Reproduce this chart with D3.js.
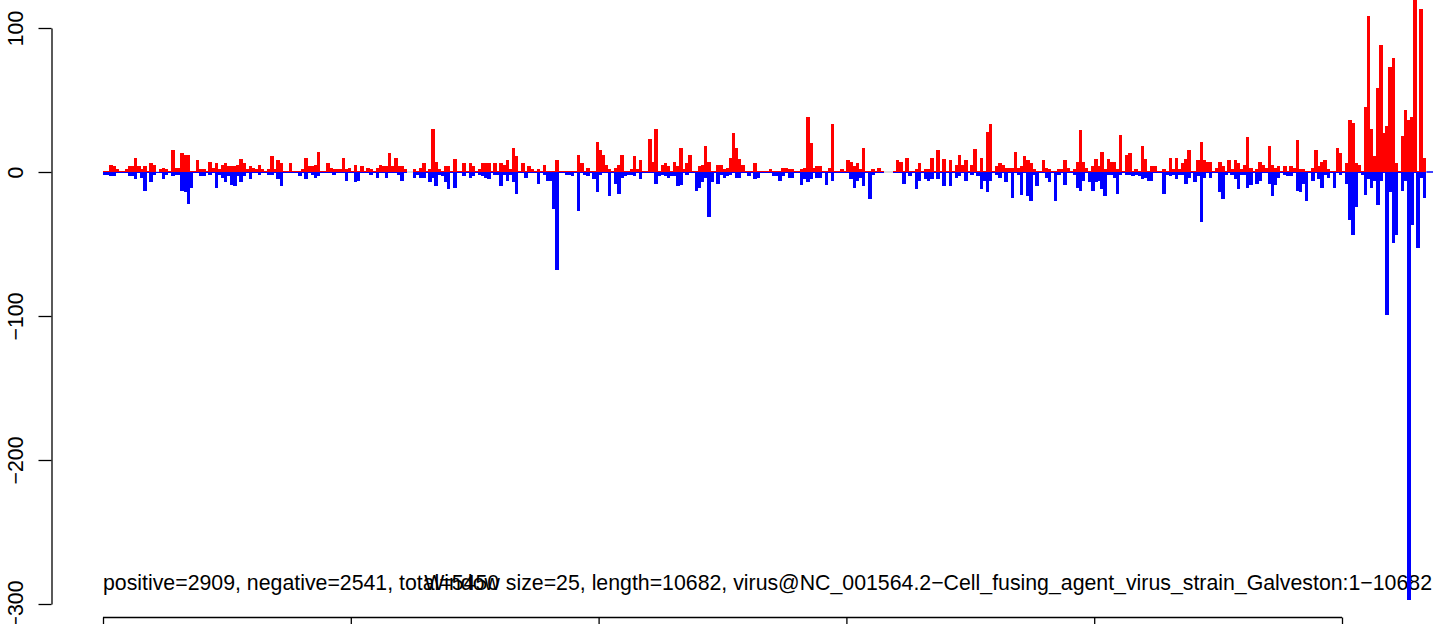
<!DOCTYPE html>
<html>
<head>
<meta charset="utf-8">
<script src="https://cdn.jsdelivr.net/npm/d3@7"></script>
<style>
  html, body { margin: 0; padding: 0; background: #ffffff; }
  svg { display: block; }
  text { font-family: "Liberation Sans", Arial, Helvetica, sans-serif; }
</style>
</head>
<body>
<svg id="chart" width="1433" height="624"></svg>
<script>
// ---- data ----
const genomeLength = 10682;
const windowSize = 25;

// positive-strand coverage per 25 bp window (428 windows)
const positive = [
  1,1,5,4,2,1,1,2,4,4, 10,4,2,4,1,6,5,0,2,3, 2,1,15,3,3,13,12,12,1,1,
  8,2,2,1,7,3,6,2,5,6, 4,4,4,5,9,6,2,4,3,2, 5,2,1,2,11,2,8,6,1,1,
  6,1,1,1,2,10,4,4,5,14, 1,1,6,
  3,2,2,2,10,2,3,1,5,1, 4,1,3,2,1,3,5,4,4,13, 4,10,4,4,2,0,0,2,1,3,
  6,1,2,30,7,2,1,4,4,1, 9,1,1,6,1,6,4,1,2,6, 6,6,1,6,1,6,5,8,2,17,
  11,1,6,1,4,2,1,2,1,5, 1,1,1,8,
  1,1,1,1,1,1,12,6,1,3, 1,1,21,15,12,5,2,1,3,5, 12,1,1,2,11,2,8,1,1,23,
  7,30,1,5,6,4,1,7,4,17, 2,6,12,1,1,4,5,18,7,1, 1,5,5,2,3,10,27,17,9,5,
  1,1,1,6,1,1,1,1,2,1, 1,1,3,3,
  2,2,1,1,2,3,38,20,3,4, 4,1,1,3,33,1,1,2,1,8, 7,4,6,2,17,1,1,2,1,3,
  1,0,0,0,1,8,7,1,10,1, 1,2,6,1,2,2,10,1,15,1, 9,1,8,1,5,12,5,8,1,5,
  16,1,10,1,28,33,1,4,6,5, 3,3,3,14,3,
  4,11,8,6,2,1,1,8,3,2, 1,1,2,2,8,3,1,2,7,29, 7,3,1,4,9,4,14,2,9,7,
  7,2,26,1,12,13,1,2,1,18, 9,1,4,4,1,1,2,1,10,2, 10,2,6,9,15,1,1,8,21,8,
  7,7,1,3,7,4,1,8,2,8,6,
  2,5,24,3,1,2,7,5,3,18, 5,3,4,1,4,1,4,3,22,2, 2,1,1,3,15,4,7,8,2,1,
  1,17,13,1,6,36,34,6,5,1, 45,108,30,11,58,88,27,32,73,79,
  6,1,25,43,36,38,122,1,113,10,0
];

// negative-strand coverage per window (drawn below zero)
const negative = [
  2,2,3,3,1,1,1,1,3,3, 5,1,4,13,1,7,2,1,1,5, 2,1,3,2,2,13,14,22,11,1,
  1,3,3,1,2,1,11,2,4,7, 3,9,10,3,7,3,1,5,1,1, 2,1,1,2,2,1,5,10,1,1,
  1,1,1,3,1,5,1,2,4,3, 1,1,1,
  1,2,1,1,1,6,1,1,7,6, 1,1,1,2,1,4,1,1,4,1, 1,1,2,6,1,0,0,4,2,4,
  4,1,7,4,10,2,3,7,12,1, 11,1,1,3,1,4,3,1,2,3, 4,5,1,2,2,10,2,6,2,7,
  15,1,1,4,1,1,1,8,1,2, 6,6,26,68,
  1,1,2,2,3,1,27,1,2,3, 1,5,14,2,1,1,17,1,8,15, 4,3,2,2,3,1,5,1,1,1,
  1,8,3,2,3,4,3,3,10,9, 1,2,1,1,13,11,7,4,31,7, 1,8,2,4,3,2,1,4,4,1,
  1,3,1,5,4,1,1,1,1,3, 3,6,3,1,
  4,4,1,1,9,5,7,5,1,4, 4,1,9,1,6,1,1,1,1,1, 5,11,6,4,10,1,19,2,1,1,
  1,0,0,0,1,1,1,8,1,3, 1,12,6,1,5,6,5,1,5,1, 10,1,10,1,4,3,1,6,1,2,
  1,3,12,6,14,6,1,2,4,1, 7,1,18,1,2,
  16,1,17,20,2,10,1,1,4,7, 1,20,2,1,9,1,1,2,11,13, 6,1,7,13,7,6,12,17,2,2,
  4,15,2,1,2,2,3,2,3,5, 4,6,6,1,1,1,15,2,3,2, 5,2,2,8,4,1,7,3,35,4,
  1,4,1,1,14,19,2,1,2,5,12,
  2,2,11,9,1,8,6,1,1,8, 17,9,4,1,2,3,3,1,13,14, 8,20,1,6,1,5,11,2,4,1,
  11,1,2,1,8,33,44,24,1,2, 16,5,11,6,23,6,1,99,14,49,
  44,1,13,6,297,37,1,53,4,18,0
];

const yTicks = [100, 0, -100, -200, -300];
const xTicks = [0, 2000, 4000, 6000, 8000, 10000];

const summaryText = "positive=2909, negative=2541, total=5450";
const titleText = "Window size=25, length=10682, virus@NC_001564.2\u2212Cell_fusing_agent_virus_strain_Galveston:1\u221210682";

// ---- drawing ----
const svg = d3.select("#chart");

const x = d3.scaleLinear().domain([0, genomeLength]).range([103, 1426.5]);
const y = d3.scaleLinear().domain([-300, 100]).range([604, 28]);

const fmt = d => d < 0 ? "\u2212" + Math.abs(d) : String(d);
const fontSize = 21.3;

// y axis
const yAxis = svg.append("g")
  .attr("transform", "translate(51.5,0)")
  .call(d3.axisLeft(y).tickValues(yTicks).tickSize(13).tickSizeOuter(0).tickFormat(""));
yAxis.select(".domain").attr("stroke", "#000").attr("stroke-width", 1.3);
yAxis.selectAll(".tick line").attr("stroke", "#000").attr("stroke-width", 1.3);
yAxis.selectAll(".tick").append("text")
  .attr("transform", "translate(-29,0) rotate(-90)")
  .attr("text-anchor", "middle")
  .attr("fill", "#000")
  .attr("font-size", fontSize)
  .text(d => fmt(d));

// x axis (line spans first to last tick)
const xAxis = svg.append("g")
  .attr("transform", "translate(0,617.5)")
  .call(d3.axisBottom(x).tickValues(xTicks).tickSize(13).tickSizeOuter(0).tickFormat(""));
xAxis.select(".domain").remove();
xAxis.selectAll(".tick line").attr("stroke", "#000").attr("stroke-width", 1.3);
xAxis.append("line")
  .attr("x1", x(xTicks[0])).attr("x2", x(xTicks[xTicks.length - 1]))
  .attr("y1", 0).attr("y2", 0)
  .attr("stroke", "#000").attr("stroke-width", 1.3);

// annotation texts
svg.append("text")
  .attr("x", 103).attr("y", 590)
  .attr("font-size", fontSize).attr("fill", "#000")
  .text(summaryText);
svg.append("text")
  .attr("x", 1432).attr("y", 590)
  .attr("text-anchor", "end")
  .attr("font-size", fontSize).attr("fill", "#000")
  .text(titleText);

// zero baseline
svg.append("line")
  .attr("x1", x(0)).attr("x2", x(genomeLength))
  .attr("y1", y(0)).attr("y2", y(0))
  .attr("stroke", "#bebebe").attr("stroke-width", 1);
svg.append("line")
  .attr("x1", x(genomeLength)).attr("x2", 1433)
  .attr("y1", y(0)).attr("y2", y(0))
  .attr("stroke", "#0000ff").attr("stroke-width", 1.5);

const wins = d3.range(positive.length).map(i => ({
  start: i * windowSize,
  end: Math.min((i + 1) * windowSize, genomeLength),
  pos: positive[i],
  neg: negative[i]
}));

const bars = svg.append("g").attr("shape-rendering", "crispEdges");

bars.selectAll("rect.pos")
  .data(wins.filter(d => d.pos > 0))
  .join("rect")
  .attr("class", "pos")
  .attr("x", d => x(d.start))
  .attr("width", d => Math.max(0.5, x(d.end) - x(d.start)) + 0.4)
  .attr("y", d => y(d.pos))
  .attr("height", d => y(0) - y(d.pos))
  .attr("fill", "#ff0000");

bars.selectAll("rect.neg")
  .data(wins.filter(d => d.neg > 0))
  .join("rect")
  .attr("class", "neg")
  .attr("x", d => x(d.start))
  .attr("width", d => Math.max(0.5, x(d.end) - x(d.start)) + 0.4)
  .attr("y", y(0))
  .attr("height", d => y(-d.neg) - y(0))
  .attr("fill", "#0000ff");
</script>
</body>
</html>
